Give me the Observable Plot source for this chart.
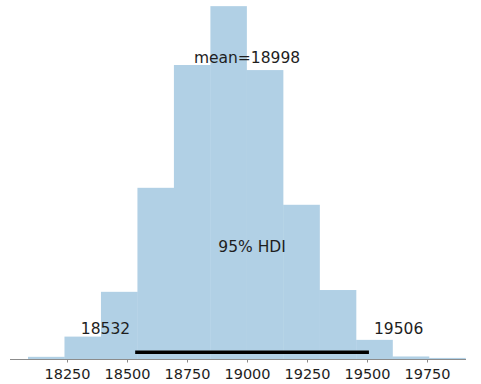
<!DOCTYPE html>
<html>
<head>
<meta charset="utf-8">
<script src="https://cdn.jsdelivr.net/npm/d3@7"></script>
<script src="https://cdn.jsdelivr.net/npm/@observablehq/plot@0.6"></script>
<style>
  html, body { margin: 0; padding: 0; background: #fff; }
  #chart svg { display: block; }
</style>
</head>
<body>
<div id="chart"></div>
<script>
// Posterior histogram: 12 equal-width bins
const binEdges = [18087.5, 18239.5, 18391.5, 18543.5, 18695.5, 18847.5, 18999.5,
                  19151.5, 19303.5, 19455.5, 19607.5, 19759.5, 19911.5];
const binCounts = [6, 62, 186, 474, 814, 977, 800, 427, 191, 53, 7, 3];

// Summary statistics
const meanValue = 18998;
const hdiBounds = [18532, 19506];
const hdiLabel = "95% HDI";

// Axis
const xTicks = [18250, 18500, 18750, 19000, 19250, 19500, 19750];
const xDomain = [18012.5, 19912.5];
const plotHeight = 994;

const bins = binCounts.map((c, i) => ({x1: binEdges[i], x2: binEdges[i + 1], count: c}));
const font = "DejaVu Sans, sans-serif";
const textColor = "#1e1e1e";

const chart = Plot.plot({
  width: 481,
  height: 384,
  marginLeft: 10,
  marginRight: 15,
  marginTop: 0,
  marginBottom: 25,
  style: {fontFamily: font, background: "#fff"},
  x: {domain: xDomain},
  y: {domain: [0, plotHeight], axis: null},
  marks: [
    Plot.rectY(bins, {x1: "x1", x2: "x2", y: "count", fill: "#1f77b4", fillOpacity: 0.35}),
    Plot.ruleY([0], {stroke: "#8c8c8c", strokeWidth: 1}),
    Plot.axisX({
      ticks: xTicks,
      tickFormat: d => String(d),
      tickSize: 3.5,
      tickPadding: 6,
      fontSize: 14.5,
      stroke: "#8c8c8c",
      fill: textColor
    }),
    // HDI bar
    Plot.line(hdiBounds.map(v => ({x: v, y: plotHeight * 0.02})), {
      x: "x", y: "y", stroke: "#000", strokeWidth: 3.5, strokeLinecap: "butt"
    }),
    // HDI bound labels
    Plot.text([hdiBounds[0]], {
      x: d => d, y: plotHeight * 0.07, text: d => String(d),
      textAnchor: "end", lineAnchor: "bottom", dx: -5,
      fontSize: 15.5, fill: textColor
    }),
    Plot.text([hdiBounds[1]], {
      x: d => d, y: plotHeight * 0.07, text: d => String(d),
      textAnchor: "start", lineAnchor: "bottom", dx: 5,
      fontSize: 15.5, fill: textColor
    }),
    Plot.text([hdiLabel], {
      x: (hdiBounds[0] + hdiBounds[1]) / 2, y: plotHeight * 0.3, text: d => d,
      textAnchor: "middle", lineAnchor: "bottom",
      fontSize: 15.5, fill: textColor
    }),
    // Mean label
    Plot.text([meanValue], {
      x: d => d, y: plotHeight * 0.825, text: d => `mean=${d}`,
      textAnchor: "middle", lineAnchor: "bottom",
      fontSize: 15.5, fill: textColor
    })
  ]
});

document.getElementById("chart").appendChild(chart);
</script>
</body>
</html>
